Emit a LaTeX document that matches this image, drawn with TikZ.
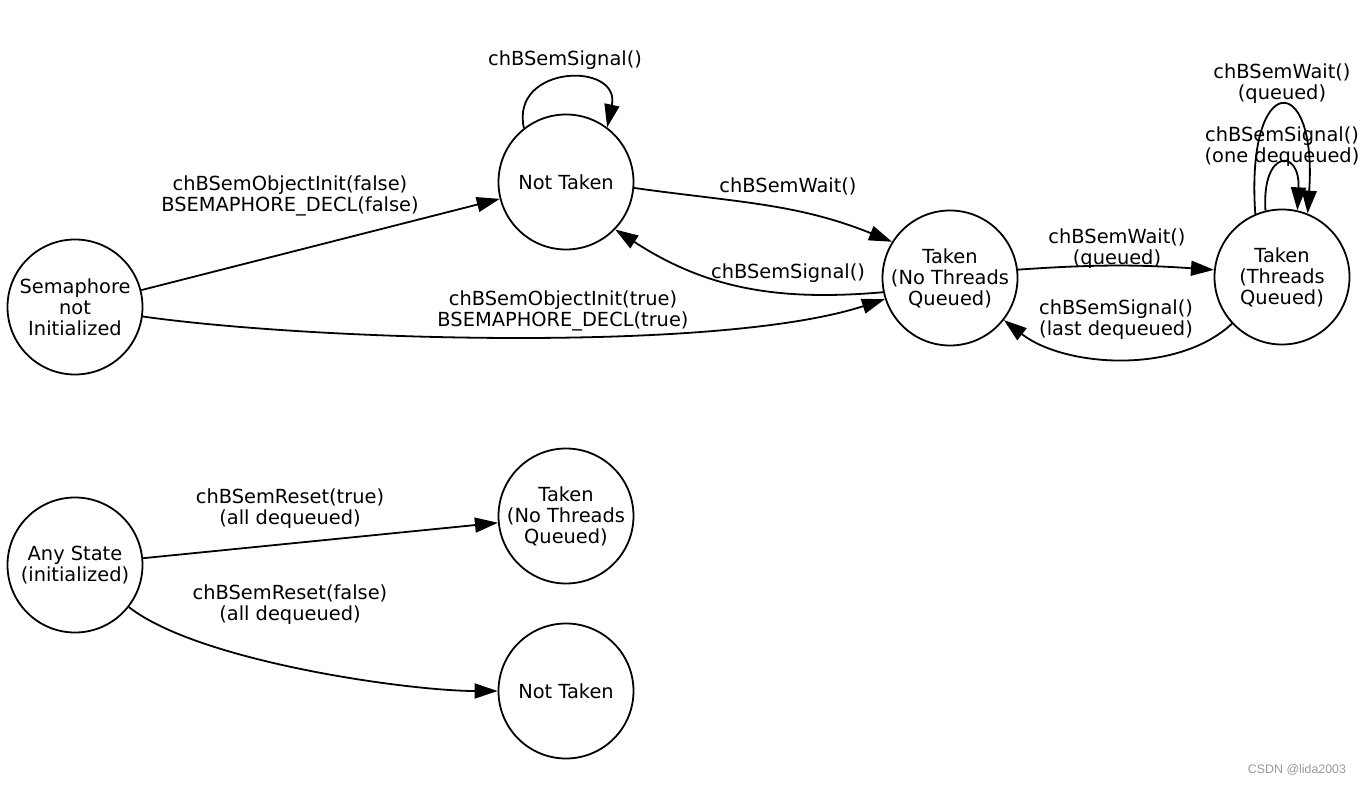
\documentclass[tikz,border=0pt]{standalone}
\usepackage{fontspec}
\setmainfont{DejaVu Sans}
\newfontfamily\wmfont{Liberation Sans}
\usetikzlibrary{arrows.meta}

\tikzset{
  state/.style={circle, draw, line width=0.9pt, minimum size=67.5pt, inner sep=0pt, align=center},
  trans/.style={line width=0.9pt, -{Triangle[length=11.5pt,width=7.5pt]}},
  lbl/.style={align=center, inner sep=0pt},
}

\begin{document}
\begin{tikzpicture}[x=0.5pt, y=-0.5pt, font=\fontsize{9.7}{10.5}\selectfont]
      \useasboundingbox (0,0) rectangle (1365,785);

      % states
      \node[state] (S)   at (75,307)   {Semaphore\\not\\Initialized};
      \node[state] (NT)  at (566,182)  {Not Taken};
      \node[state] (T1)  at (950,278)  {Taken\\(No Threads\\Queued)};
      \node[state] (T2)  at (1282,277) {Taken\\(Threads\\Queued)};

      \node[state] (A)   at (75,565)   {Any State\\(initialized)};
      \node[state] (T3)  at (566,516)  {Taken\\(No Threads\\Queued)};
      \node[state] (NT2) at (566,691)  {Not Taken};

      % transitions
      \draw[trans] (S) -- (NT);
      \draw[trans] (S) to[out=-8, in=198, looseness=0.6] (T1);
      \draw[trans] (NT.-5) to[out=-8, in=158] (T1.148);
      \draw[trans] (T1.192) to[out=185, in=-33] (NT.-44);
      \draw[trans] (NT.128) .. controls +(-14,-64) and +(14,-66) .. (NT.53);
      \draw[trans] (T1.7) to[out=4, in=176] (T2.174);
      \draw[trans] (T2) to[out=223, in=322, looseness=0.85] (T1);
      \draw[trans] (T2.104) .. controls +(-4,-62) and +(3,-62) .. (T2.77);
      \draw[trans] (T2.113) .. controls +(-10,-144) and +(10,-144) .. (T2.68);

      \draw[trans] (A) -- (T3);
      \draw[trans] (A) to[out=-38, in=180, looseness=0.6] (NT2);

      % labels
      \node[lbl] (l1)  at (565,60)   {chBSemSignal()};
      \node[lbl] (l2)  at (290,196)  {chBSemObjectInit(false)\\BSEMAPHORE\_DECL(false)};
      \node[lbl] (l3)  at (563,311)  {chBSemObjectInit(true)\\BSEMAPHORE\_DECL(true)};
      \node[lbl] (l4)  at (788,186)  {chBSemWait()};
      \node[lbl] (l5)  at (788,273)  {chBSemSignal()};
      \node[lbl] (l6)  at (1117,249) {chBSemWait()\\(queued)};
      \node[lbl] (l7)  at (1116,320) {chBSemSignal()\\(last dequeued)};
      \node[lbl] (l8)  at (1282,147) {chBSemSignal()\\(one dequeued)};
      \node[lbl] (l9)  at (1282,84)  {chBSemWait()\\(queued)};
      \node[lbl] (l10) at (290,509)  {chBSemReset(true)\\(all dequeued)};
      \node[lbl] (l11) at (290,605)  {chBSemReset(false)\\(all dequeued)};

      \node[text=gray!80, font=\fontsize{6.2}{7}\selectfont\wmfont] (wm) at (1297,770) {CSDN @lida2003};
\end{tikzpicture}
\end{document}
